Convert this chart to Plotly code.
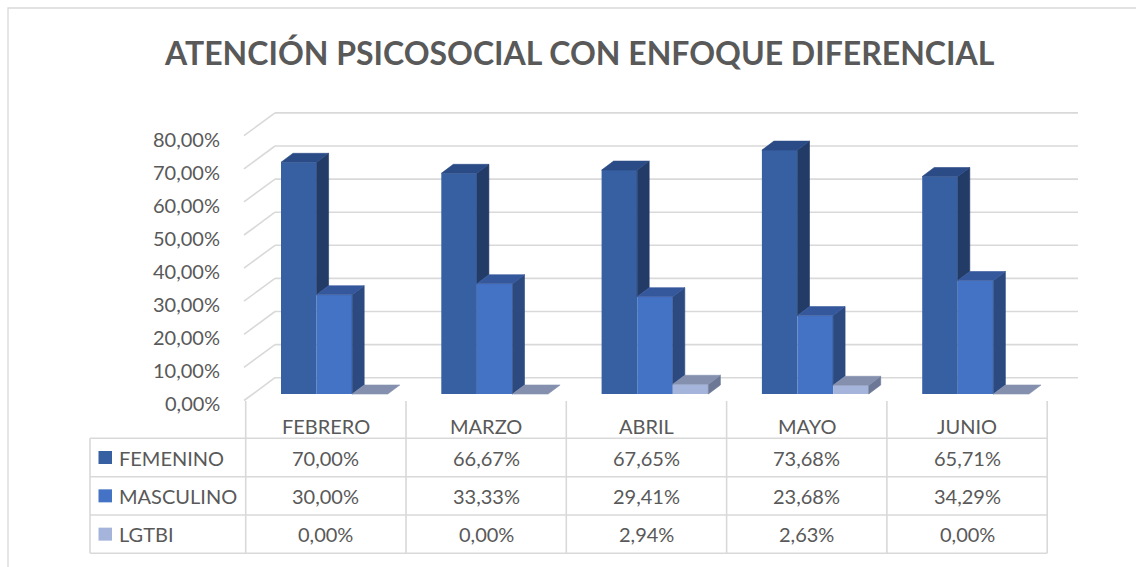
import plotly.graph_objects as go

# ---------------- data ----------------
months = ["FEBRERO", "MARZO", "ABRIL", "MAYO", "JUNIO"]
series_names = ["FEMENINO", "MASCULINO", "LGTBI"]
femenino = [70.00, 66.67, 67.65, 73.68, 65.71]
masculino = [30.00, 33.33, 29.41, 23.68, 34.29]
lgtbi = [0.00, 0.00, 2.94, 2.63, 0.00]
y_ticks = [0, 10, 20, 30, 40, 50, 60, 70, 80]
title_text = "ATENCIÓN PSICOSOCIAL CON ENFOQUE DIFERENCIAL"

series_values = [femenino, masculino, lgtbi]

# ---------------- style ----------------
W, H = 1136, 567
CAT_PX = 160.3      # pixel width of one category
X0_PX = 245.7       # pixel x of left edge of first category
BASE_PX = 394.0     # pixel y of bar baseline
PCT_PX = 3.31       # pixels per percentage point

def X(px):
    return (px - X0_PX) / CAT_PX

def Y(py):
    return (BASE_PX - py) / PCT_PX

FONT = "Lato"
TXT = "#595959"
GRID = "#D9D9D9"

front_col = ["#3760A3", "#4472C4", "#A5B4DB"]
top_col = ["#2B4B86", "#35589C", "#8490AE"]
side_col = ["#233B67", "#2C4A80", "#6C7895"]

BAR_OFF = 35.3 / CAT_PX
BAR_W = 35.6 / CAT_PX
DX = 12.0 / CAT_PX
DY = 9.0 / PCT_PX

FRONT_X = X(244)
BACK_X = X(275)
RIGHT_X = X(1078)
FRONT_DY = Y(400.5)
BACK_DY = Y(377.7)

fig = go.Figure()
shapes = []
annotations = []

# ---------------- walls / gridlines (below traces) ----------------
for v in y_ticks:
    shapes.append(dict(type="line", xref="x", yref="y", layer="below",
                       x0=BACK_X, x1=RIGHT_X, y0=v + BACK_DY, y1=v + BACK_DY,
                       line=dict(color=GRID, width=1.6)))
    shapes.append(dict(type="line", xref="x", yref="y", layer="below",
                       x0=FRONT_X, x1=BACK_X, y0=v + FRONT_DY, y1=v + BACK_DY,
                       line=dict(color=GRID, width=1.6)))
    annotations.append(dict(x=X(222), y=v + FRONT_DY - 0.9, xref="x", yref="y",
                            text=f"{v:.2f}".replace(".", ",") + "%",
                            showarrow=False, xanchor="right", yanchor="middle",
                            font=dict(family=FONT, size=20, color=TXT)))

# ---------------- bars (front faces) ----------------
n = len(months)
for s, (name, vals) in enumerate(zip(series_names, series_values)):
    xs = [i + BAR_OFF + s * BAR_W + BAR_W / 2 for i in range(n)]
    fig.add_trace(go.Bar(x=xs, y=vals, width=[BAR_W] * n, base=0,
                         marker=dict(color=front_col[s], line=dict(width=0)),
                         name=name, showlegend=False, hoverinfo="skip"))

# ---------------- 3D faces (sides and tops) ----------------
for s, vals in enumerate(series_values):
    sx, sy, tx, ty = [], [], [], []
    for i, v in enumerate(vals):
        xl = i + BAR_OFF + s * BAR_W
        xr = xl + BAR_W
        if s + 1 < len(series_values):
            lower = min(series_values[s + 1][i], v)
        else:
            lower = 0
        if v > lower:
            sx += [xr, xr + DX, xr + DX, xr, xr, None]
            sy += [lower, lower + DY, v + DY, v, lower, None]
        tx += [xl, xl + DX, xr + DX, xr, xl, None]
        ty += [v, v + DY, v + DY, v, v, None]
    fig.add_trace(go.Scatter(x=sx, y=sy, mode="lines", fill="toself",
                             fillcolor=side_col[s], line=dict(color=side_col[s], width=0.6),
                             showlegend=False, hoverinfo="skip"))
    fig.add_trace(go.Scatter(x=tx, y=ty, mode="lines", fill="toself",
                             fillcolor=top_col[s], line=dict(color=top_col[s], width=0.6),
                             showlegend=False, hoverinfo="skip"))

# ---------------- data table ----------------
TBL_LEFT = X(90)
TBL_RIGHT = float(n)
row_lines_px = [438.3, 476.7, 515.0, 553.3]
HEADER_TOP = Y(401)
for py in row_lines_px:
    shapes.append(dict(type="line", xref="x", yref="y", x0=TBL_LEFT, x1=TBL_RIGHT,
                       y0=Y(py), y1=Y(py), line=dict(color=GRID, width=1.6)))
for k in range(n + 1):
    shapes.append(dict(type="line", xref="x", yref="y", x0=k, x1=k,
                       y0=HEADER_TOP, y1=Y(row_lines_px[-1]), line=dict(color=GRID, width=1.6)))
shapes.append(dict(type="line", xref="x", yref="y", x0=TBL_LEFT, x1=TBL_LEFT,
                   y0=Y(row_lines_px[0]), y1=Y(row_lines_px[-1]), line=dict(color=GRID, width=1.6)))

for i, m in enumerate(months):
    annotations.append(dict(x=i + 0.5, y=Y(425.5), xref="x", yref="y", text=m,
                            showarrow=False, xanchor="center", yanchor="middle",
                            font=dict(family=FONT, size=20, color=TXT)))

row_edges = [438.3, 476.7, 515.0, 553.3]
for s, (name, vals) in enumerate(zip(series_names, series_values)):
    cy = (row_edges[s] + row_edges[s + 1]) / 2
    shapes.append(dict(type="rect", xref="x", yref="y", x0=X(98.5), x1=X(112),
                       y0=Y(cy + 6.5), y1=Y(cy - 6.5), fillcolor=front_col[s],
                       line=dict(width=0)))
    annotations.append(dict(x=X(116.5), y=Y(cy), xref="x", yref="y", text=name,
                            showarrow=False, xanchor="left", yanchor="middle",
                            font=dict(family=FONT, size=20, color=TXT)))
    for i, v in enumerate(vals):
        annotations.append(dict(x=i + 0.5, y=Y(cy), xref="x", yref="y",
                                text=f"{v:.2f}".replace(".", ",") + "%",
                                showarrow=False, xanchor="center", yanchor="middle",
                                font=dict(family=FONT, size=20, color=TXT)))

# ---------------- title ----------------
annotations.append(dict(x=X(579), y=Y(52), xref="x", yref="y", text="<b>" + title_text + "</b>",
                        showarrow=False, xanchor="center", yanchor="middle",
                        font=dict(family=FONT, size=32, color=TXT)))

# ---------------- outer frame ----------------
shapes.append(dict(type="rect", xref="x", yref="y", x0=X(8), x1=X(1200),
                   y0=Y(8), y1=Y(600), line=dict(color=GRID, width=1.3)))

fig.update_layout(
    width=W, height=H,
    margin=dict(l=0, r=0, t=0, b=0),
    paper_bgcolor="white", plot_bgcolor="white",
    barmode="overlay",
    showlegend=False,
    xaxis=dict(range=[X(0), X(W)], visible=False, fixedrange=True),
    yaxis=dict(range=[Y(H), Y(0)], visible=False, fixedrange=True),
    shapes=shapes,
    annotations=annotations,
)

fig.write_html("out.html", config={"displayModeBar": False},
               post_script="document.body.style.margin='0';document.body.style.overflow='hidden';")
